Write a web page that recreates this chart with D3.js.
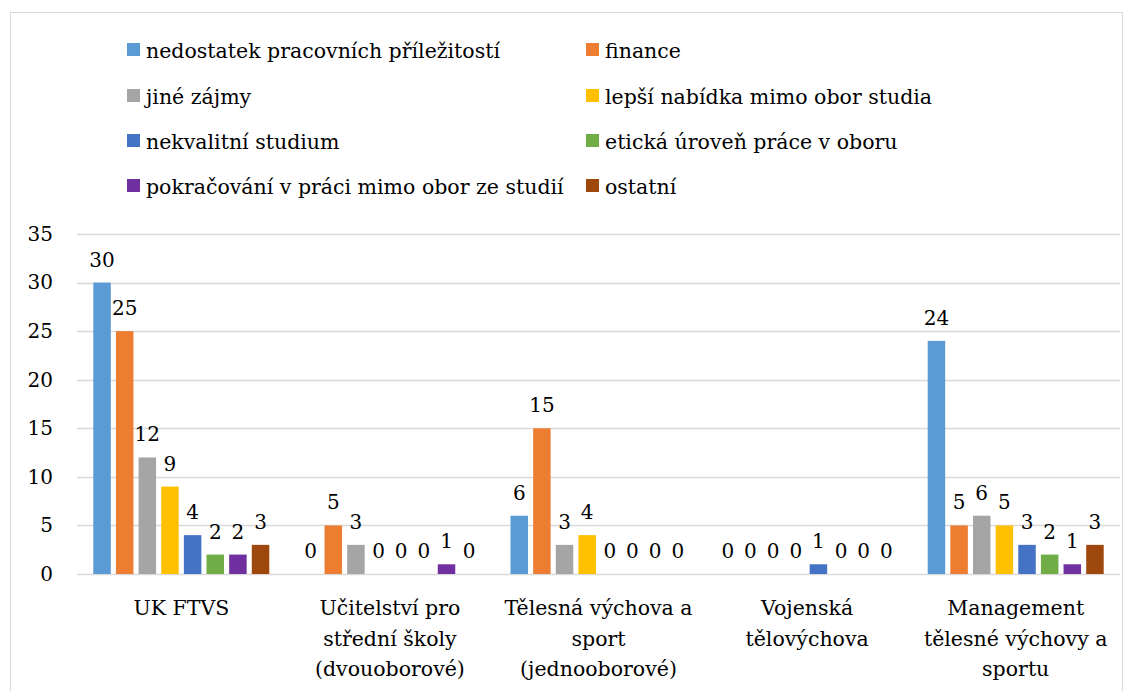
<!DOCTYPE html>
<html>
<head>
<meta charset="utf-8">
<script src="https://cdn.jsdelivr.net/npm/d3@7"></script>
<style>
  body { margin: 0; background: #fff; }
</style>
</head>
<body>
<div id="chart"></div>
<script>
// --- Data ---
const categories = [
  ["UK FTVS"],
  ["Učitelství pro", "střední školy", "(dvouoborové)"],
  ["Tělesná výchova a", "sport", "(jednooborové)"],
  ["Vojenská", "tělovýchova"],
  ["Management", "tělesné výchovy a", "sportu"]
];
const seriesNames = [
  "nedostatek pracovních příležitostí", "finance",
  "jiné zájmy", "lepší nabídka mimo obor studia",
  "nekvalitní studium", "etická úroveň práce v oboru",
  "pokračování v práci mimo obor ze studií", "ostatní"
];
const seriesColors = ["#5B9BD5", "#ED7D31", "#A5A5A5", "#FFC000", "#4472C4", "#70AD47", "#7030A0", "#9E480E"];
// values[category][series]
const values = [
  [30, 25, 12, 9, 4, 2, 2, 3],
  [0, 5, 3, 0, 0, 0, 1, 0],
  [6, 15, 3, 4, 0, 0, 0, 0],
  [0, 0, 0, 0, 1, 0, 0, 0],
  [24, 5, 6, 5, 3, 2, 1, 3]
];
const yTicks = [0, 5, 10, 15, 20, 25, 30, 35];

// --- Setup ---
const width = 1131, height = 691;
const plot = { left: 77, right: 1120, top: 234, bottom: 574 };
const serif = "DejaVu Serif";

const svg = d3.select("#chart").append("svg")
  .attr("width", width)
  .attr("height", height)
  .style("font-family", serif)
  .style("font-size", "20px");

// chart border
svg.append("rect")
  .attr("x", 10.5).attr("y", 12.5)
  .attr("width", 1112).attr("height", 700)
  .attr("fill", "#fff")
  .attr("stroke", "#d9d9d9");

const x0 = d3.scaleBand()
  .domain(d3.range(categories.length))
  .range([plot.left, plot.right]);

const x1 = d3.scaleBand()
  .domain(d3.range(seriesNames.length))
  .range([0, 176])
  .paddingInner(0.227);

const y = d3.scaleLinear()
  .domain([0, 35])
  .range([plot.bottom, plot.top]);

// gridlines
svg.append("g")
  .selectAll("line")
  .data(yTicks)
  .join("line")
  .attr("x1", plot.left).attr("x2", plot.right)
  .attr("y1", d => Math.round(y(d)) + 0.5)
  .attr("y2", d => Math.round(y(d)) + 0.5)
  .attr("stroke", "#d9d9d9")
  .attr("stroke-width", 1.5);

// y axis labels
const yAxis = svg.append("g")
  .attr("transform", `translate(${plot.left},0)`)
  .call(d3.axisLeft(y).tickValues(yTicks).tickSize(0).tickPadding(24));
yAxis.select(".domain").remove();
yAxis.attr("font-family", null).attr("font-size", null);
yAxis.selectAll("text").attr("fill", "#000");

// bars
const groups = svg.append("g")
  .selectAll("g")
  .data(values)
  .join("g")
  .attr("transform", (d, i) => `translate(${x0(i) + x0.bandwidth() / 2 - 88},0)`);

groups.selectAll("rect")
  .data(d => d)
  .join("rect")
  .attr("x", (d, i) => x1(i))
  .attr("width", x1.bandwidth())
  .attr("y", d => y(d))
  .attr("height", d => y(0) - y(d))
  .attr("fill", (d, i) => seriesColors[i]);

groups.selectAll("text")
  .data(d => d)
  .join("text")
  .attr("x", (d, i) => x1(i) + x1.bandwidth() / 2)
  .attr("y", d => y(d) - 16)
  .attr("text-anchor", "middle")
  .text(d => d);

// category labels
const catLabels = svg.append("g")
  .style("font-size", "20.5px")
  .selectAll("text")
  .data(categories)
  .join("text")
  .attr("text-anchor", "middle")
  .attr("transform", (d, i) => `translate(${x0(i) + x0.bandwidth() / 2},615)`);
catLabels.selectAll("tspan")
  .data(d => d)
  .join("tspan")
  .attr("x", 0)
  .attr("y", (d, i) => i * 30.5)
  .text(d => d);

// legend
const legendCols = [127, 586];
const legendRows = [50, 96, 141, 186];
const legend = svg.append("g")
  .style("font-size", "20.5px")
  .selectAll("g")
  .data(seriesNames)
  .join("g")
  .attr("transform", (d, i) => `translate(${legendCols[i % 2]},${legendRows[Math.floor(i / 2)]})`);
legend.append("rect")
  .attr("x", 0).attr("y", -7)
  .attr("width", 13).attr("height", 13)
  .attr("fill", (d, i) => seriesColors[i]);
legend.append("text")
  .attr("x", 19)
  .attr("y", 8)
  .text(d => d);
</script>
</body>
</html>
